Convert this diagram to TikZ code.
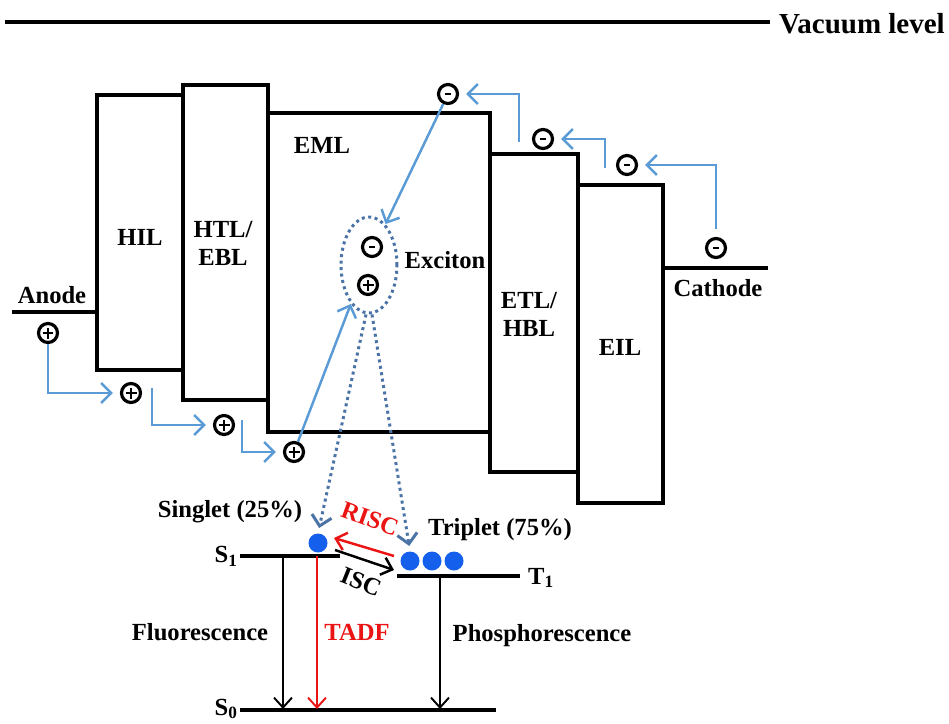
\documentclass[tikz,border=0pt]{standalone}
\usepackage{fontspec}
\setmainfont{Liberation Serif}
\usetikzlibrary{arrows.meta,calc,shapes.geometric}

\definecolor{flowblue}{RGB}{91,155,213}
\definecolor{dotblue}{RGB}{75,115,165}
\definecolor{statefill}{RGB}{20,95,235}
\definecolor{tadfred}{RGB}{235,20,20}

\tikzset{
  layer/.style={line width=2.3pt},
  lbl/.style={font=\bfseries\fontsize{14}{16}\selectfont, inner sep=1pt},
  charge/.style={circle, draw, line width=1.8pt, minimum size=0.38cm, inner sep=0pt},
  hole/.style={charge, path picture={
      \draw[line width=1.4pt] ($(path picture bounding box.center)+(-0.11cm,0)$) -- ++(0.22cm,0)
                              ($(path picture bounding box.center)+(0,-0.11cm)$) -- ++(0,0.22cm);}},
  electron/.style={charge, path picture={
      \draw[line width=1.6pt] ($(path picture bounding box.center)+(-0.065cm,0)$) -- ++(0.13cm,0);}},
  carrier/.style={draw=flowblue, line width=1.4pt, -{Straight Barb[length=2mm,width=4mm]}},
  decay/.style={line width=1.1pt, -{Straight Barb[length=2mm,width=3.6mm]}},
  state/.style={circle, fill=statefill, minimum size=0.38cm, inner sep=0pt},
}

\begin{document}
\begin{tikzpicture}[x=0.02cm, y=-0.02cm]
  \useasboundingbox (0,0) rectangle (949,723);
  % Vacuum level
  \draw[layer] (5,22) coordinate (vacl) -- (770,22) coordinate (vacr);
  \node[lbl, font=\bfseries\fontsize{16.5}{18}\selectfont, right] (vac) at (777,24) {Vacuum level};
  % Electrodes
  \draw[layer] (12,312) -- (97,312);
  \node[lbl] (anode) at (52,295) {Anode};
  \draw[layer] (663,268) -- (768,268);
  \node[lbl] (cathode) at (718,288) {Cathode};
  % Layers
  \draw[layer] (97,95) rectangle (183,370);
  \draw[layer] (183,85) rectangle (268,400);
  \draw[layer] (268,113) rectangle (490,432);
  \draw[layer] (490,154) rectangle (578,472);
  \draw[layer] (578,185) rectangle (663,503);
  \node[lbl] (hil) at (140,237) {HIL};
  \node[lbl, align=center] (htl) at (223,243) {HTL/\\EBL};
  \node[lbl] (eml) at (322,145) {EML};
  \node[lbl, align=center] (etl) at (529,314) {ETL/\\HBL};
  \node[lbl] (eil) at (620,347) {EIL};
  % Holes
  \node[hole] (h1) at (48,333) {};
  \node[hole] (h2) at (131,393) {};
  \node[hole] (h3) at (224,425) {};
  \node[hole] (h4) at (294,452) {};
  % Electrons
  \node[electron] (e1) at (448,94) {};
  \node[electron] (e2) at (543,139) {};
  \node[electron] (e3) at (627,165) {};
  \node[electron] (e4) at (716,248) {};
  % Exciton
  \node[ellipse, draw=dotblue, dotted, line width=1.7pt, minimum width=1.12cm, minimum height=1.92cm] (exc) at (369,265) {};
  \node[electron] (ex-e) at (372,247) {};
  \node[hole] (ex-h) at (368,285) {};
  \node[lbl] (exlbl) at (445,260) {Exciton};
  % Hole transport
  \draw[carrier, shorten >=4pt] (h1.south) |- (h2.west);
  \draw[carrier, shorten >=4pt] ($(h2)+(21,-5)$) |- (h3.west);
  \draw[carrier, shorten >=4pt] ($(h3)+(18,-5)$) |- (h4.west);
  \draw[carrier] (h4) -- (exc.245);
  % Electron transport
  \draw[carrier, shorten >=4pt] (e4.north) ++(0,-8) |- (e3.east);
  \draw[carrier, shorten >=4pt] ($(e3)+(-22,3)$) |- (e2.east);
  \draw[carrier, shorten >=4pt] ($(e2)+(-24,3)$) |- (e1.east);
  \draw[carrier] (e1) -- (exc.68);
  % Energy levels
  \draw[layer] (240,556) coordinate (s1a) -- (340,556) coordinate (s1b);
  \draw[layer] (397,576) coordinate (t1a) -- (520,576) coordinate (t1b);
  \draw[layer] (240,710) coordinate (s0a) -- (496,710) coordinate (s0b);
  \node[lbl, left] (s1) at (s1a) {S\textsubscript{1}};
  \node[lbl, right] (t1) at ($(t1b)+(6,2)$) {T\textsubscript{1}};
  \node[lbl, left] (s0) at ($(s0a)+(0,-1)$) {S\textsubscript{0}};
  % Excited states
  \node[state] (sing) at (318,543) {};
  \node[state] (trip1) at (410,561) {};
  \node[state] (trip2) at (432,561) {};
  \node[state] (trip3) at (454,561) {};
  \node[lbl] (singlbl) at (230,512) {Singlet (25\%)};
  \node[lbl] (triplbl) at (500,530) {Triplet (75\%)};
  \draw[dotblue, dotted, line width=1.7pt, -{Straight Barb[length=2mm,width=4mm]}, shorten >=3pt] ([xshift=-0.06cm]exc.south) -- (sing.north);
  \draw[dotblue, dotted, line width=1.7pt, -{Straight Barb[length=2mm,width=4mm]}, shorten >=3pt] ([xshift=0.06cm]exc.south) -- (trip1.north);
  % Intersystem crossing
  \coordinate (risc-a) at (394,556);
  \coordinate (isc-b) at (394,570);
  \draw[tadfred, line width=1.4pt, -{Straight Barb[length=2mm,width=3.6mm]}] (risc-a) -- ($(sing)+(16,-5)$);
  \draw[line width=1.4pt, -{Straight Barb[length=2mm,width=3.6mm]}] ($(sing)+(17,7)$) -- (isc-b);
  \node[lbl, tadfred, rotate=-20, inner sep=0pt] (risc) at (370,519) {RISC};
  \node[lbl, rotate=-22, inner sep=0pt] (isc) at (361,582) {ISC};
  % Radiative decay
  \draw[decay] (283,556) -- (283,709);
  \draw[decay, tadfred] (317,556) -- (317,709);
  \draw[decay] (440,576) -- (440,709);
  \node[lbl] (fluor) at (200,632) {Fluorescence};
  \node[lbl, tadfred] (tadf) at (357,632) {TADF};
  \node[lbl] (phos) at (542,636) {Phosphorescence};
\end{tikzpicture}
\end{document}
